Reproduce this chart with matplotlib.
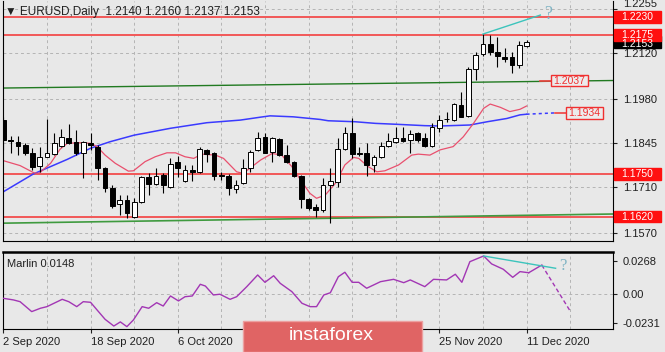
import matplotlib
matplotlib.use('Agg')
import matplotlib.pyplot as plt
from matplotlib.patches import Rectangle
from matplotlib.transforms import blended_transform_factory

plt.rcParams['font.family'] = ['Liberation Sans', 'DejaVu Sans']

# EURUSD Daily, 2 Sep 2020 .. 11 Dec 2020 (bar index 0..72)
opens = [1.1915, 1.1853, 1.1849, 1.1839, 1.1815, 1.1775, 1.1803, 1.1811, 1.1837, 1.1861,
         1.1849, 1.1813, 1.1846, 1.1834, 1.1768, 1.1707, 1.1658, 1.1671, 1.1620, 1.1666,
         1.1742, 1.1720, 1.1747, 1.1712, 1.1786, 1.1730, 1.1763, 1.1757, 1.1824, 1.1813,
         1.1746, 1.1744, 1.1704, 1.1722, 1.1768, 1.1824, 1.1862, 1.1818, 1.1856, 1.1808,
         1.1788, 1.1744, 1.1673, 1.1648, 1.1640, 1.1717, 1.1727, 1.1826, 1.1877, 1.1813,
         1.1813, 1.1778, 1.1803, 1.1837, 1.1849, 1.1861, 1.1854, 1.1875, 1.1859, 1.1836,
         1.1890, 1.1918, 1.1915, 1.1961, 1.1927, 1.2070, 1.2117, 1.2147, 1.2124, 1.2109,
         1.2107, 1.2083, 1.2140]
highs = [1.1924, 1.1866, 1.1866, 1.1845, 1.1830, 1.1833, 1.1918, 1.1876, 1.1888, 1.1903,
         1.1885, 1.1852, 1.1876, 1.1839, 1.1773, 1.1717, 1.1686, 1.1686, 1.1677, 1.1744,
         1.1752, 1.1768, 1.1752, 1.1798, 1.1805, 1.1778, 1.1778, 1.1832, 1.1826, 1.1818,
         1.1756, 1.1750, 1.1732, 1.1795, 1.1824, 1.1880, 1.1875, 1.1864, 1.1859, 1.1839,
         1.1790, 1.1747, 1.1676, 1.1659, 1.1737, 1.1768, 1.1859, 1.1895, 1.1920, 1.1834,
         1.1844, 1.1808, 1.1849, 1.1875, 1.1895, 1.1893, 1.1885, 1.1879, 1.1875, 1.1905,
         1.1931, 1.1941, 1.1966, 1.2002, 1.2078, 1.2124, 1.2178, 1.2176, 1.2168, 1.2134,
         1.2124, 1.2158, 1.2160]
lows = [1.1824, 1.1814, 1.1808, 1.1808, 1.1762, 1.1757, 1.1802, 1.1808, 1.1834, 1.1842,
        1.1808, 1.1737, 1.1824, 1.1732, 1.1696, 1.1646, 1.1625, 1.1615, 1.1615, 1.1661,
        1.1686, 1.1717, 1.1693, 1.1707, 1.1740, 1.1727, 1.1729, 1.1754, 1.1788, 1.1732,
        1.1732, 1.1686, 1.1691, 1.1720, 1.1757, 1.1821, 1.1813, 1.1788, 1.1805, 1.1783,
        1.1742, 1.1645, 1.1640, 1.1620, 1.1635, 1.1600, 1.1710, 1.1824, 1.1798, 1.1805,
        1.1744, 1.1757, 1.1798, 1.1834, 1.1844, 1.1847, 1.1813, 1.1849, 1.1834, 1.1834,
        1.1879, 1.1910, 1.1913, 1.1923, 1.1925, 1.2037, 1.2111, 1.2114, 1.2078, 1.2093,
        1.2058, 1.2073, 1.2137]
closes = [1.1854, 1.1851, 1.1837, 1.1813, 1.1773, 1.1801, 1.1815, 1.1845, 1.1864, 1.1844,
          1.1813, 1.1849, 1.1839, 1.1768, 1.1707, 1.1652, 1.1671, 1.1630, 1.1665, 1.1742,
          1.1720, 1.1744, 1.1717, 1.1781, 1.1768, 1.1763, 1.1755, 1.1826, 1.1811, 1.1744,
          1.1743, 1.1707, 1.1717, 1.1768, 1.1818, 1.1859, 1.1815, 1.1861, 1.1808, 1.1788,
          1.1744, 1.1673, 1.1645, 1.1640, 1.1717, 1.1729, 1.1826, 1.1875, 1.1811, 1.1811,
          1.1778, 1.1803, 1.1836, 1.1851, 1.1861, 1.1852, 1.1872, 1.1854, 1.1837, 1.1895,
          1.1915, 1.1917, 1.1964, 1.1925, 1.2070, 1.2114, 1.2147, 1.2124, 1.2112, 1.2102,
          1.2083, 1.2144, 1.2153]

date_pos = [0, 12, 24, 36, 48, 60, 72]
date_labels = ['2 Sep 2020', '18 Sep 2020', '6 Oct 2020', '', '', '25 Nov 2020', '11 Dec 2020']
price_ticks = [1.2255, 1.2120, 1.1980, 1.1845, 1.1710, 1.1570]

# slow MA (blue) and fast MA (pink)
ma_slow_x = [0, 4.1, 8.8, 12, 14.7, 18, 23, 28, 32.6, 35.4, 36.7, 39.9, 43.6, 44.7, 48.4,
             51.2, 54.3, 58, 60.1, 64.2, 66.6, 69.3, 71.1, 72]
ma_slow = [1.1696, 1.1750, 1.1795, 1.1829, 1.1849, 1.1869, 1.1890, 1.1907, 1.1915, 1.1924,
           1.1928, 1.1925, 1.1917, 1.1913, 1.1910, 1.1905, 1.1902, 1.1898, 1.1897, 1.1900,
           1.1910, 1.1920, 1.1931, 1.1933]
ma_fast_x = [0, 2.3, 4.2, 4.9, 6.5, 7.8, 8.8, 10.6, 12, 12.9, 14, 15.4, 17.2, 17.9, 19.5,
             20.9, 22.5, 23.7, 25, 26.2, 27.3, 29.2, 30.3, 32.1, 33, 35.4, 37, 38.3, 39.7,
             40.9, 42.2, 43.1, 44.3, 45.7, 47, 48.2, 48.9, 50.2, 51.4, 52.5, 54.4, 56.2,
             57.1, 58.7, 60.1, 61.9, 63.3, 64.7, 66.1, 67, 68.4, 69.7, 71.1, 72]
ma_fast = [1.1791, 1.1776, 1.1754, 1.1752, 1.1783, 1.1826, 1.1844, 1.1846, 1.1844, 1.1834,
           1.1808, 1.1783, 1.1759, 1.1760, 1.1788, 1.1803, 1.1815, 1.1815, 1.1803, 1.1798,
           1.1811, 1.1808, 1.1798, 1.1757, 1.1752, 1.1793, 1.1813, 1.1808, 1.1773, 1.1732,
           1.1691, 1.1676, 1.1686, 1.1722, 1.1778, 1.1801, 1.1798, 1.1773, 1.1757, 1.1760,
           1.1778, 1.1808, 1.1811, 1.1808, 1.1824, 1.1834, 1.1864, 1.1905, 1.1951, 1.1964,
           1.1954, 1.1941, 1.1948, 1.1958]
slow_proj = ([72, 75.9], [1.1933, 1.1937])

# Marlin oscillator
marlin_x = [0, 1.4, 2.3, 3.9, 5.1, 6, 8.1, 9, 10.1, 11, 12, 12.9, 14, 15.2, 16.1, 17, 17.9,
            19.1, 20, 21.1, 22, 23, 24.1, 25, 26, 27.1, 27.8, 28.9, 29.8, 31.2, 32.1, 33.5,
            35, 36, 37.2, 38.1, 39.7, 41.1, 42.2, 43.1, 44.1, 45, 46.1, 47, 48, 48.9, 50,
            51.9, 53.7, 55.1, 56, 58, 59.2, 61, 62.2, 63.1, 64.2, 66.1, 67.2, 68.8, 70.1,
            71.1, 72.3]
marlin = [-0.0035, -0.0048, -0.0062, -0.0142, -0.0115, -0.0102, -0.0043, -0.0062, -0.0102,
          -0.0062, -0.0067, -0.0129, -0.0204, -0.0258, -0.0225, -0.0263, -0.0209, -0.0102,
          -0.0115, -0.0070, -0.0097, -0.0016, -0.0056, -0.0022, -0.0016, 0.0078, 0.0064,
          -0.0008, -0.0002, -0.0043, -0.0022, 0.0059, 0.0153, 0.0094, 0.0147, 0.0086, 0.0019,
          -0.0075, -0.0102, -0.0102, -0.0008, 0.0010, 0.0139, 0.0175, 0.0094, 0.0094, 0.0046,
          0.0099, 0.0118, 0.0091, 0.0113, 0.0059, 0.0118, 0.0113, 0.0159, 0.0094, 0.0260,
          0.0306, 0.0242, 0.0199, 0.0134, 0.0180, 0.0171]

# drawn objects
red_levels = [1.2230, 1.2175, 1.1750, 1.1620]
trend_top = ([0, 83.9], [1.2013, 1.2036])
trend_bottom = ([0, 83.9], [1.1600, 1.1628])
div_price = ([66, 73.9], [1.2178, 1.2236])
div_marlin = ([66.1, 76], [0.0306, 0.0207])
marlin_hook = ([72.3, 74.1], [0.0171, 0.0233])
marlin_fore = ([74.1, 78], [0.0233, -0.0137])

BG = '#e8e8e8'
GRID = '#b4b4b4'
W, H = 665, 352

def fx(px):
    return px / W

def fy(px):
    return 1 - px / H

fig = plt.figure(figsize=(W / 100, H / 100), dpi=100, facecolor=BG)
ax = fig.add_axes([fx(3), fy(241), fx(613) - fx(3), fy(1) - fy(241)], facecolor=BG)
axm = fig.add_axes([fx(3), fy(329), fx(613) - fx(3), fy(252) - fy(329)], facecolor=BG)

xmax = 83.9
for a in (ax, axm):
    a.set_xlim(-0.05, xmax)
    for v in range(6, 84, 6):
        a.axvline(v, color=GRID, lw=0.7, ls=(0, (3, 3)), zorder=0)
    for s in a.spines.values():
        s.set_color('black')
        s.set_linewidth(0.8)

# ---- price panel ----
ax.set_ylim(1.15455, 1.2279)
for p in price_ticks:
    ax.axhline(p, color=GRID, lw=0.7, ls=(0, (3, 3)), zorder=0)
ax.spines['top'].set_visible(False)
ax.set_xticks([])
ax.yaxis.tick_right()
ax.set_yticks(price_ticks)
ax.set_yticklabels([f'{p:.4f}' for p in price_ticks])
ax.tick_params(axis='y', direction='out', length=3, pad=4, labelsize=8, colors='#202020')
ax.get_yticklabels()[0].set_va('bottom')

for p in red_levels:
    ax.axhline(p, color='#f25858', lw=1.4, zorder=1)
ax.plot(*trend_top, color='#217a21', lw=1.0, zorder=1)
ax.plot(*trend_bottom, color='#3f9a3f', lw=1.2, zorder=1)

ax.plot(ma_slow_x, ma_slow, color='#3a3aff', lw=1.1, zorder=2)
ax.plot(*slow_proj, color='#3a3aff', lw=1.1, ls=(0, (2, 2)), zorder=2)
ax.plot(ma_fast_x, ma_fast, color='#e8506e', lw=0.9, zorder=2)

for i, (o, h, l, c) in enumerate(zip(opens, highs, lows, closes)):
    ax.vlines(i, l, h, color='black', lw=0.8, zorder=3)
    bull = c > o
    ax.bar(i, max(abs(c - o), 0.00012), bottom=min(o, c), width=0.65,
           facecolor='white' if bull else 'black', edgecolor='black', lw=0.7, zorder=4)

ax.plot(*div_price, color='#3cc4bc', lw=1.0, zorder=5)
ax.text(75, 1.2239, '?', color='#80b4c4', fontsize=13, ha='center', va='center',
        family=['Liberation Serif', 'DejaVu Serif'], zorder=5)

# price tags
tr = blended_transform_factory(ax.transAxes, ax.transData)
ppx = (1.2279 - 1.15455) / 240

def tag(price, text, x0, x1, fc, ec, tc, hpx=11.5, dy=0.0):
    h = hpx * ppx
    ax.add_patch(Rectangle(((x0 - 3) / 610, price - h / 2), (x1 - x0) / 610, h,
                           transform=tr, facecolor=fc, edgecolor=ec, lw=1,
                           clip_on=False, zorder=6))
    ax.text(((x0 + x1) / 2 - 3) / 610, price + dy, text, transform=tr, ha='center',
            va='center', color=tc, fontsize=7.5, zorder=7, clip_on=False)

tag(closes[-1], f'{closes[-1]:.4f}', 614, 661, 'black', 'black', 'white', dy=-1.5 * ppx)
for p in red_levels:
    tag(p, f'{p:.4f}', 614, 661, '#ff1010', '#ff1010', 'white')

ax.plot([(540 - 3) / 7.27, (551 - 3) / 7.27], [1.2036, 1.2036], color='#f04040', lw=1.2, zorder=5)
tag(1.2036, '1.2037', 551, 588, '#ececec', '#f03030', '#f03030')
ax.plot([(555 - 3) / 7.27, (566 - 3) / 7.27], [1.1937, 1.1937], color='#f04040', lw=1.2, zorder=5)
tag(1.1937, '1.1934', 566, 603, '#ececec', '#f03030', '#f03030')

# ---- Marlin panel ----
axm.set_ylim(-0.0282, 0.0338)
axm.axhline(0, color=GRID, lw=0.7, ls=(0, (3, 3)), zorder=0)
axm.spines['top'].set_linewidth(1.8)
axm.yaxis.tick_right()
axm.set_yticks([0.0268, 0.0, -0.0231])
axm.set_yticklabels(['0.0268', '0.00', '-0.0231'])
axm.tick_params(axis='y', direction='out', length=3, pad=4, labelsize=8, colors='#202020')
axm.set_xticks(date_pos)
axm.set_xticklabels(date_labels)
axm.tick_params(axis='x', direction='out', length=3, pad=3, labelsize=8, colors='#202020')
for lab in axm.get_xticklabels():
    lab.set_ha('left')

axm.plot(marlin_x, marlin, color='#a236b4', lw=1.0, zorder=3)
axm.plot(*marlin_hook, color='#a236b4', lw=1.0, zorder=3)
axm.plot(*marlin_fore, color='#a236b4', lw=1.0, ls=(0, (3, 2)), zorder=3)
axm.plot(*div_marlin, color='#3cc4bc', lw=1.0, zorder=4)
axm.text(77, 0.0225, '?', color='#80b4c4', fontsize=12, ha='center', va='center',
         family=['Liberation Serif', 'DejaVu Serif'], zorder=5)
axm.text(0.007, 0.84, 'Marlin 0.0148', transform=axm.transAxes, fontsize=8,
         color='#202020', va='center')

# header
fig.text(fx(5), fy(12), '\u25bc EURUSD,Daily  %.4f %.4f %.4f %.4f'
         % (opens[-1], highs[-1], lows[-1], closes[-1]),
         fontsize=8.5, color='#202020', va='center')

# watermark
fig.add_artist(Rectangle((fx(243), 0), (422 - 243) / W, 31 / H, transform=fig.transFigure,
                         facecolor='#e06464', edgecolor='#eca0a0', lw=1, zorder=10))
fig.text(fx(331), fy(336), 'instaforex', color='white', fontsize=14,
         ha='center', va='center', zorder=11)

fig.savefig('out.png', dpi=100, facecolor=BG)
